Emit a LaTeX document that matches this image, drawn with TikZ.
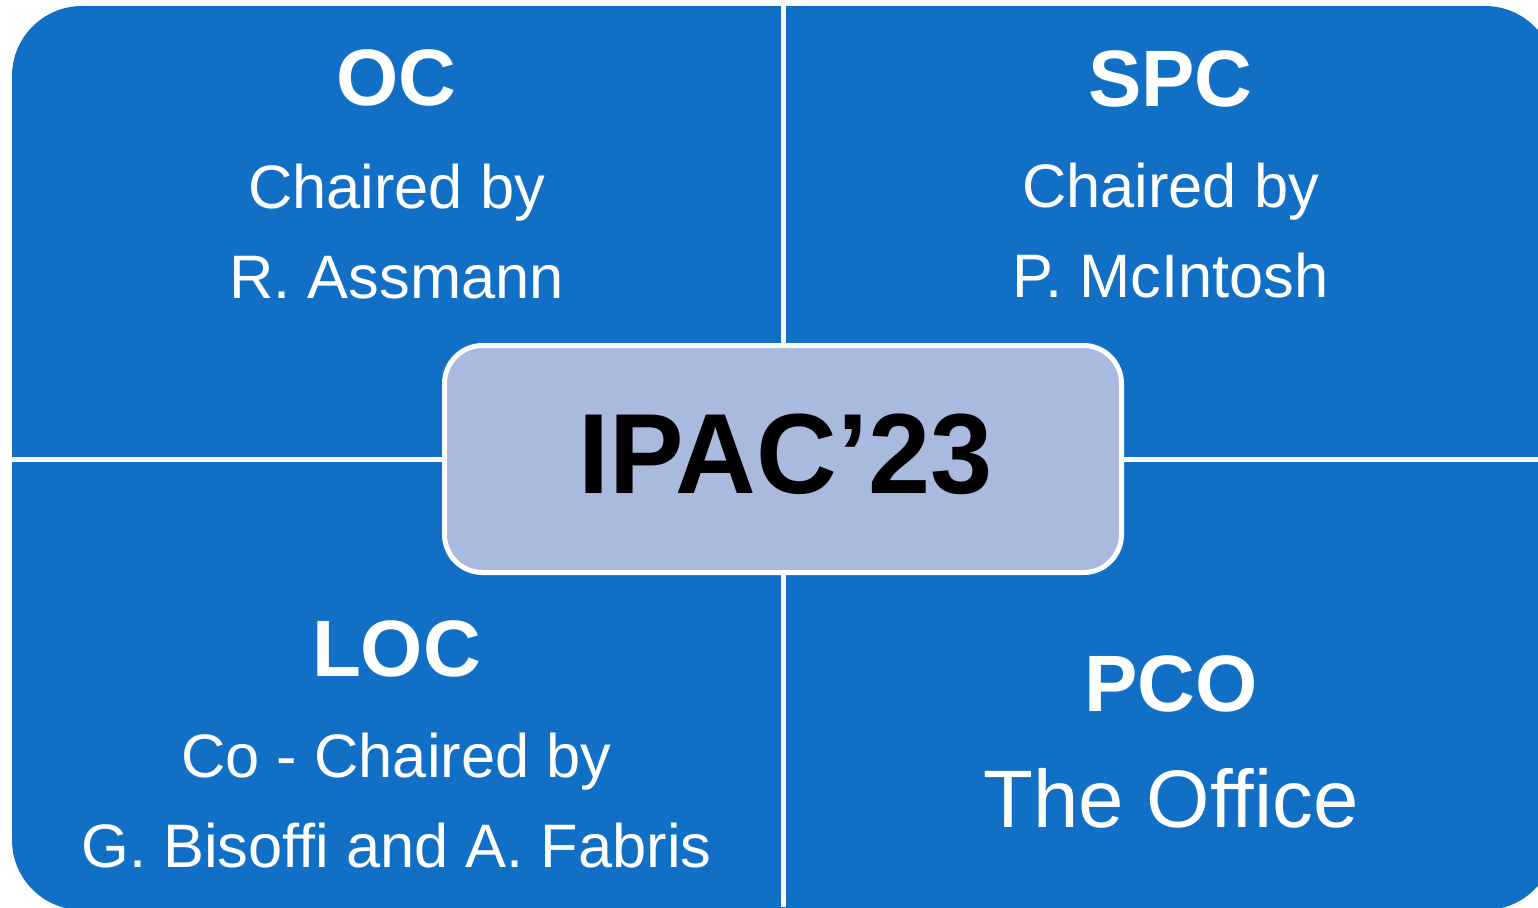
\documentclass[tikz,border=0pt]{standalone}
\usepackage{fontspec}
\setmainfont{Liberation Sans}
\definecolor{qblue}{HTML}{1170C6}
\definecolor{cfill}{HTML}{AABADF}
\begin{document}
\begin{tikzpicture}[x=0.5pt,y=-0.5pt,
  title/.style={text=white,font=\bfseries\fontsize{40pt}{48pt}\selectfont,anchor=base,inner sep=0pt},
  sub/.style={text=white,font=\fontsize{30.7pt}{36pt}\selectfont,anchor=base,inner sep=0pt},
  big/.style={text=white,font=\fontsize{40.8pt}{48pt}\selectfont,anchor=base,inner sep=0pt},
  gap/.style={white,line width=2.5pt},
  hub/.style={draw=white,line width=2.5pt,fill=cfill,rounded corners=19pt,minimum width=338.5pt,minimum height=113.5pt,inner sep=0pt},
  hubtext/.style={text=black,font=\bfseries\fontsize{57pt}{64pt}\selectfont,anchor=base,inner sep=0pt,xscale=0.98,transform shape}]
\useasboundingbox (0,0) rectangle (1538,907);
\clip (0,0) rectangle (1538,907);
\fill[qblue,rounded corners=35pt] (12,6) rectangle (1555,910);
\coordinate (top) at (783.5,0);
\coordinate (bot) at (783.5,907);
\coordinate (lft) at (0,459);
\coordinate (rgt) at (1538,459);
\draw[gap] (top) -- (bot);
\draw[gap] (lft) -- (rgt);
\node[hub] (hub) at (783,459) {};
\node[hubtext] (ipac) at (785.5,493) {IPAC’23};
% OC
\node[title] (oc) at (396.5,105) {OC};
\node[sub] (occh) at (396.5,208) {Chaired by};
\node[sub] (ocname) at (396.5,298) {R. Assmann};
% SPC
\node[title] (spc) at (1170.5,106) {SPC};
\node[sub] (spcch) at (1170.5,207) {Chaired by};
\node[sub] (spcname) at (1170.5,297) {P. McIntosh};
% LOC
\node[title] (loc) at (396.5,676) {LOC};
\node[sub] (locch) at (396.5,777) {Co - Chaired by};
\node[sub] (locname) at (396.5,867) {G. Bisoffi and A. Fabris};
% PCO
\node[title] (pco) at (1171,711) {PCO};
\node[big] (pconame) at (1171,827) {The Office};
\end{tikzpicture}
\end{document}
